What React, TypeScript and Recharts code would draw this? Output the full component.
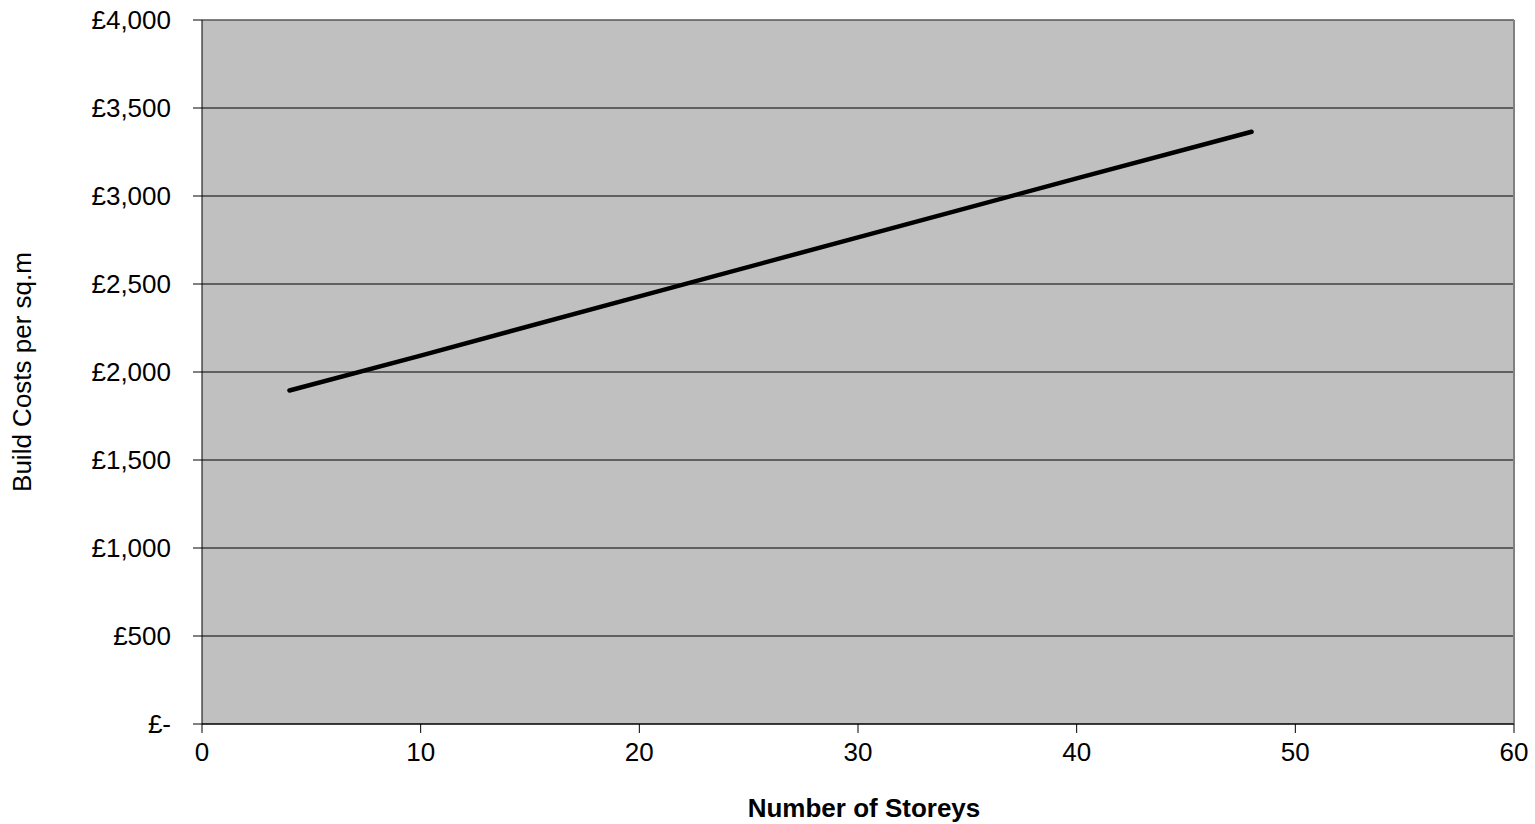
import React from "react";
import { LineChart, Line, XAxis, YAxis, CartesianGrid, ReferenceLine } from "recharts";

const storeys = [4, 10, 20, 30, 40, 48];
const costs = [1895, 2093, 2430, 2765, 3100, 3365];
const xTicks = [0, 10, 20, 30, 40, 50, 60];
const yTicks = [0, 500, 1000, 1500, 2000, 2500, 3000, 3500, 4000];

const data = storeys.map((s, i) => ({ storeys: s, cost: costs[i] }));

const fmtY = (v: number) => (v === 0 ? "£-" : "£" + v.toLocaleString("en-GB"));

const FONT = "'Liberation Sans', Arial, sans-serif";

export default function App() {
  return (
    <div style={{ position: "absolute", left: 0, top: 0, fontFamily: FONT }}>
      <LineChart width={1535} height={824} data={data} margin={{ top: 20, right: 21, left: 0, bottom: 0 }}>
        <CartesianGrid vertical={false} stroke="#000" strokeWidth={1.2} fill="#C0C0C0" />
        <ReferenceLine x={60} stroke="#808080" strokeWidth={2} />
        <ReferenceLine y={4000} stroke="#808080" strokeWidth={1} />
        <XAxis
          dataKey="storeys"
          type="number"
          domain={[0, 60]}
          ticks={xTicks}
          height={100}
          tickSize={9}
          tickMargin={10}
          stroke="#000"
          tick={{ fill: "#000", fontSize: 26, fontFamily: FONT }}
          label={{ value: "Number of Storeys", position: "insideBottom", offset: 7, fill: "#000", fontSize: 26, fontWeight: "bold", fontFamily: FONT, dx: 6 }}
        />
        <YAxis
          type="number"
          domain={[0, 4000]}
          ticks={yTicks}
          width={202}
          tickSize={9}
          tickMargin={22}
          stroke="#000"
          tickFormatter={fmtY}
          tick={{ fill: "#000", fontSize: 26, fontFamily: FONT }}
          label={{ value: "Build Costs per sq.m", angle: -90, position: "insideLeft", offset: 22, fill: "#000", fontSize: 26, fontFamily: FONT, style: { textAnchor: "middle" } }}
        />
        <Line
          type="linear"
          dataKey="cost"
          stroke="#000"
          strokeWidth={4.5}
          dot={false}
          strokeLinecap="round"
          isAnimationActive={false}
        />
      </LineChart>
    </div>
  );
}
